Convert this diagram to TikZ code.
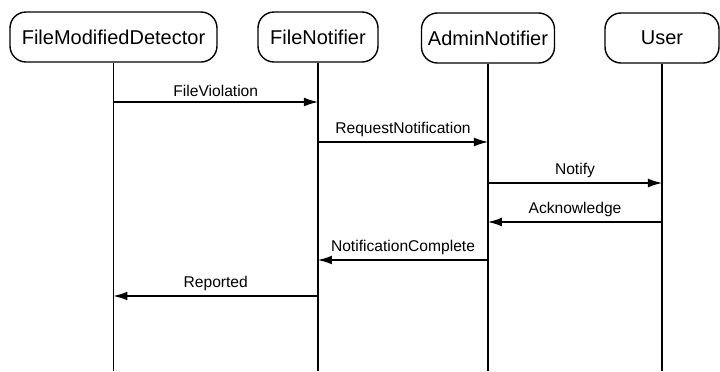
\documentclass[tikz,border=0pt]{standalone}
\usepackage{fontspec}
\setmainfont{Liberation Sans}
\usepackage{tikz}
\usetikzlibrary{arrows.meta}
\tikzset{
  objbox/.style = {draw=black, rounded corners=8pt, line width=0.7pt,
    minimum height=25pt, inner sep=0pt, align=center, font=\fontsize{10}{12}\selectfont},% objet
  lifeline/.style = {line width=0.7pt},% ligne de vie
  msg/.style = {line width=0.6pt, -{Latex[length=7pt,width=4.4pt]}},% message
  msglabel/.style = {above, inner sep=2.5pt, font=\fontsize{7.8}{9}\selectfont}% texte du message
}

\begin{document}
\begin{tikzpicture}[x=0.5pt,y=-0.5pt]
\useasboundingbox (0,0) rectangle (720,371);
% objets
\node [objbox, minimum width=103.5pt] (fmd) at (113.5,37) {FileModifiedDetector};
\node [objbox, minimum width=60pt] (fn) at (318,37) {FileNotifier};
\node [objbox, minimum width=66.5pt] (an) at (488,38) {AdminNotifier};
\node [objbox, minimum width=57pt] (usr) at (662,38) {User};
% lignes de vie
\coordinate (fmdend) at (fmd |- 0,371);
\coordinate (fnend) at (fn |- 0,371);
\coordinate (anend) at (an |- 0,371);
\coordinate (usrend) at (usr |- 0,371);
\draw [lifeline] (fmd.south) -- (fmdend);
\draw [lifeline] (fn.south) -- (fnend);
\draw [lifeline] (an.south) -- (anend);
\draw [lifeline] (usr.south) -- (usrend);
% messages
\draw [msg] (fmd |- 0,102) -- node [msglabel] {FileViolation} (fn |- 0,102);
\draw [msg] (fn |- 0,142) -- node [msglabel] {RequestNotification} (an |- 0,142);
\draw [msg] (an |- 0,183) -- node [msglabel] {Notify} (usr |- 0,183);
\draw [msg] (usr |- 0,222) -- node [msglabel] {Acknowledge} (an |- 0,222);
\draw [msg] (an |- 0,260) -- node [msglabel] {NotificationComplete} (fn |- 0,260);
\draw [msg] (fn |- 0,296) -- node [msglabel] {Reported} (fmd |- 0,296);
\end{tikzpicture}
\end{document}
